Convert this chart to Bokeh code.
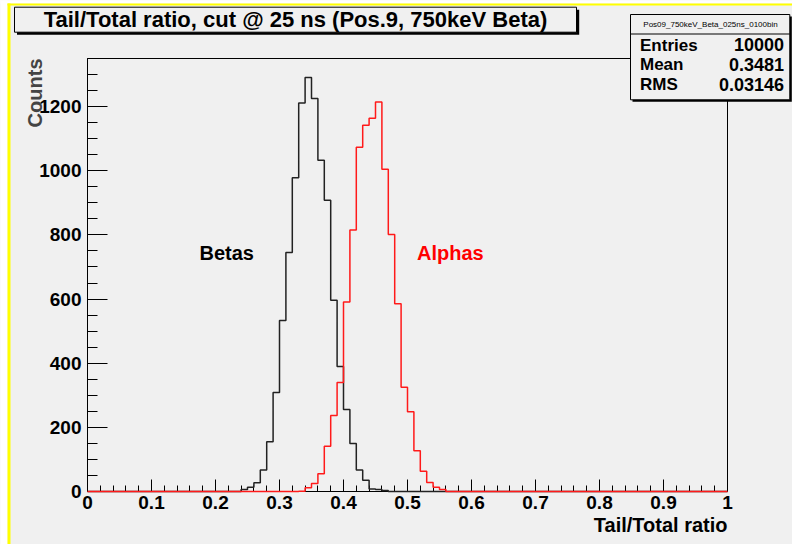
import numpy as np
from bokeh.plotting import figure
from bokeh.models import FixedTicker, Label, BoxAnnotation, Range1d, LinearAxis
from bokeh.core.properties import value
from bokeh.embed import file_html
from bokeh.resources import INLINE

# ---------------- data ----------------
n_bins = 100
bin_width = 0.01
beta_first_bin = 24      # bin index of first non-empty beta bin (x = 0.24)
beta_counts = [6, 13, 27, 67, 155, 309, 533, 745, 978, 1211, 1291, 1225,
               1033, 908, 596, 390, 256, 150, 67, 35, 8, 6, 3]
alpha_first_bin = 33     # x = 0.33
alpha_counts = [1, 12, 25, 55, 141, 237, 340, 591, 815, 1073, 1142, 1164,
                1214, 1005, 801, 585, 325, 249, 127, 63, 28, 13, 6]
x_ticks = [0, 0.1, 0.2, 0.3, 0.4, 0.5, 0.6, 0.7, 0.8, 0.9, 1]
x_tick_labels = ["0", "0.1", "0.2", "0.3", "0.4", "0.5", "0.6", "0.7", "0.8", "0.9", "1"]
y_ticks = [0, 200, 400, 600, 800, 1000, 1200]
title_text = "Tail/Total ratio, cut @ 25 ns (Pos.9, 750keV Beta)"
stats_name = "Pos09_750keV_Beta_025ns_0100bin"
stats_rows = [("Entries", "10000"), ("Mean", "0.3481"), ("RMS", "0.03146")]
x_title = "Tail/Total ratio"
y_title = "Counts"
# --------------------------------------

GRAY = "#f0f0f0"
FONT = "Liberation Sans"
W, H = 792, 544
FL, FR, FT, FB = 87, 727, 58, 491   # pixel position of the histogram frame
YMAX = 1350
SHIFT = 0.36                        # baseline correction (fraction of font size)


def dx(px):
    return (px - FL) / (FR - FL)


def dy(py):
    return (FB - py) / (FB - FT) * YMAX


edges = np.arange(n_bins + 1) * bin_width
beta = np.zeros(n_bins)
beta[beta_first_bin:beta_first_bin + len(beta_counts)] = beta_counts
alpha = np.zeros(n_bins)
alpha[alpha_first_bin:alpha_first_bin + len(alpha_counts)] = alpha_counts

p = figure(width=W, height=H, x_range=Range1d(dx(0), dx(W)), y_range=Range1d(dy(H), dy(0)),
           output_backend="svg", toolbar_location=None,
           x_axis_location=None, y_axis_location=None,
           min_border=0, min_border_left=0, min_border_right=0,
           min_border_top=0, min_border_bottom=0,
           background_fill_color=GRAY, border_fill_color=GRAY,
           outline_line_color=None)
p.grid.visible = False

# canvas edge decoration (white strip + yellow frame)
for l, r, b, t, c in [
    (-1, 7, -1, 545, "white"), (-1, 793, -1, 3, "white"),
    (7, 10, 3, 545, "#ffff00"), (7, 793, 3, 5, "#ffff00"),
]:
    p.add_layout(BoxAnnotation(left=dx(l), right=dx(r), top=dy(b), bottom=dy(t),
                               fill_color=c, fill_alpha=1, line_color=None))

# histogram frame
p.add_layout(BoxAnnotation(left=0, right=1, bottom=0, top=YMAX, fill_alpha=0,
                           line_color="black", line_width=1, line_alpha=1))

# axes
xax = LinearAxis(fixed_location=0, bounds=(0, 1))
xax.ticker = FixedTicker(ticks=x_ticks,
                         minor_ticks=[round(i * 0.02, 2) for i in range(51)])
xax.major_label_overrides = {float(t): s for t, s in zip(x_ticks, x_tick_labels)}
yax = LinearAxis(fixed_location=0, bounds=(0, YMAX))
yax.ticker = FixedTicker(ticks=y_ticks, minor_ticks=list(range(0, 1351, 50)))
for ax in (xax, yax):
    ax.major_tick_out = 0
    ax.minor_tick_out = 0
    ax.major_tick_line_color = "black"
    ax.minor_tick_line_color = "black"
    ax.major_label_text_font = FONT
    ax.major_label_text_font_style = "bold"
    ax.major_label_text_font_size = "19px"
    ax.major_label_text_color = "black"
xax.major_tick_in = 12
xax.minor_tick_in = 6
yax.major_tick_in = 20
yax.minor_tick_in = 10
xax.major_label_standoff = 4
yax.major_label_standoff = 6
xax.axis_line_color = "#ff2020"
yax.axis_line_color = "black"
p.add_layout(xax, "below")
p.add_layout(yax, "left")

# histograms
p.step(edges, np.append(beta, 0), mode="after", line_color="#222222", line_width=1.5,
       level="overlay")
p.step(edges, np.append(alpha, 0), mode="after", line_color="#ff1a1a", line_width=1.5,
       level="overlay")


def label(px, base_py, text, fs, align="left", bold=True, color="black"):
    p.add_layout(Label(x=dx(px), y=dy(base_py - SHIFT * fs), text=text, text_font=FONT,
                       text_font_style="bold" if bold else "normal",
                       text_font_size=f"{fs}px", text_color=color,
                       text_align=align, text_baseline="alphabetic"))


# in-plot labels
for txt, px, col in [("Betas", 199, "black"), ("Alphas", 416.5, "#ff0000")]:
    p.text(x=[dx(px)], y=[dy(259.5 - SHIFT * 20)], text=[txt], text_font=value(FONT),
           text_font_style="bold", text_font_size="20px", text_color=col,
           text_baseline="alphabetic", text_align="left")

# axis titles
label(727, 532, x_title, 20, align="right")
p.add_layout(Label(x=dx(42 - SHIFT * 20), y=dy(58), text=y_title, text_font=FONT,
                   text_font_style="bold", text_font_size="20px", angle=np.pi / 2,
                   text_align="right", text_baseline="alphabetic"))

# title box
p.add_layout(BoxAnnotation(left=dx(16.5), right=dx(578.7), top=dy(9.2), bottom=dy(34.3),
                           fill_color="black", fill_alpha=1, line_color=None))
p.add_layout(BoxAnnotation(left=dx(14), right=dx(576), top=dy(6.7), bottom=dy(31.7),
                           fill_color=GRAY, fill_alpha=1, line_color="black", line_width=1,
                           line_alpha=1))
label(295, 26.7, title_text, 22, align="center")

# stats box
p.add_layout(BoxAnnotation(left=dx(632), right=dx(791.3), top=dy(16), bottom=dy(101.3),
                           fill_color="black", fill_alpha=1, line_color=None))
p.add_layout(BoxAnnotation(left=dx(630), right=dx(789.3), top=dy(14), bottom=dy(99.3),
                           fill_color=GRAY, fill_alpha=1, line_color="black", line_width=1,
                           line_alpha=1))
p.add_layout(BoxAnnotation(left=dx(630), right=dx(789.3), top=dy(33), bottom=dy(34),
                           fill_color="black", fill_alpha=1, line_color=None))
label(710, 26.5, stats_name, 8, align="center", bold=False)
for (name, val), base in zip(stats_rows, [50.7, 70.3, 90.3]):
    label(639.5, base, name, 17)
    label(783.5, base, val, 18, align="right")

open("out.html", "w").write(file_html(p, INLINE))
